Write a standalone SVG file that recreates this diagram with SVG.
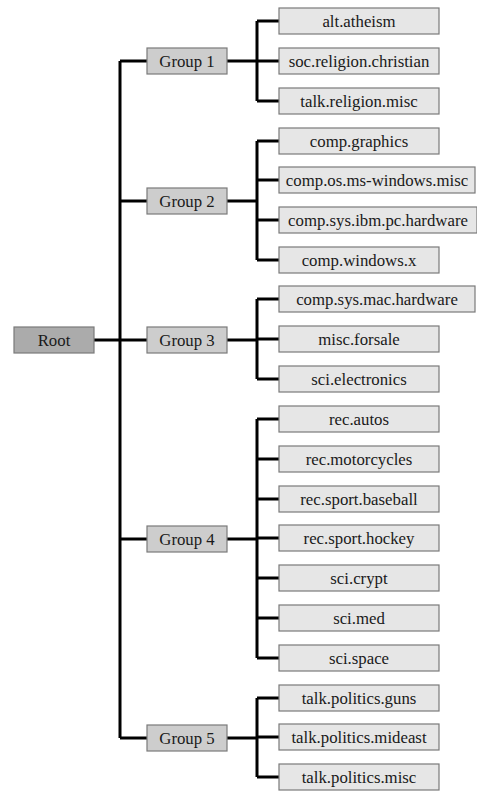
<svg xmlns="http://www.w3.org/2000/svg" width="477" height="792" viewBox="0 0 477 792" font-family="'Liberation Serif', 'DejaVu Serif', serif">
<style>
.box{stroke:#7a7a7a;stroke-width:1.2}
.root{fill:#ababab}
.grp{fill:#cdcdcd}
.leaf{fill:#e6e6e6}
text{font-family:'Liberation Serif','DejaVu Serif',serif;font-size:16.8px;fill:#1a1a1a;text-anchor:middle}
.conn{fill:none;stroke:#000;stroke-width:3;stroke-linecap:butt}
</style>
<rect width="477" height="792" fill="#fff"/>
<g id="connectors" class="conn">
<path d="M94,340H120M120,61V738M120,61H147M120,201H147M120,340H147M120,539H147M120,738H147"/>
<path d="M227,61H257M257,21V101M257,21H279M257,61H279M257,101H279"/>
<path d="M227,201H257M257,141V260M257,141H279M257,180H279M257,220H279M257,260H279"/>
<path d="M227,340H257M257,299V379M257,299H279M257,339H279M257,379H279"/>
<path d="M227,539H257M257,419V658M257,419H279M257,459H279M257,499H279M257,538H279M257,578H279M257,618H279M257,658H279"/>
<path d="M227,738H257M257,698V777M257,698H279M257,737H279M257,777H279"/>
</g>
<g id="root"><rect class="box root" x="14" y="327" width="80" height="26"/><text x="54" y="346">Root</text></g>
<g id="group1"><rect class="box grp" x="147" y="48" width="80" height="26"/><text x="187" y="67">Group 1</text></g>
<g id="group2"><rect class="box grp" x="147" y="188" width="80" height="26"/><text x="187" y="207">Group 2</text></g>
<g id="group3"><rect class="box grp" x="147" y="327" width="80" height="26"/><text x="187" y="346">Group 3</text></g>
<g id="group4"><rect class="box grp" x="147" y="526" width="80" height="26"/><text x="187" y="545">Group 4</text></g>
<g id="group5"><rect class="box grp" x="147" y="725" width="80" height="26"/><text x="187" y="744">Group 5</text></g>
<g id="leaf-alt-atheism"><rect class="box leaf" x="279" y="8" width="160" height="26"/><text x="359" y="27">alt.atheism</text></g>
<g id="leaf-soc-religion-christian"><rect class="box leaf" x="279" y="48" width="160" height="26"/><text x="359" y="67">soc.religion.christian</text></g>
<g id="leaf-talk-religion-misc"><rect class="box leaf" x="279" y="88" width="160" height="26"/><text x="359" y="107">talk.religion.misc</text></g>
<g id="leaf-comp-graphics"><rect class="box leaf" x="279" y="128" width="160" height="26"/><text x="359" y="147">comp.graphics</text></g>
<g id="leaf-comp-os-ms-windows-misc"><rect class="box leaf" x="279" y="167" width="196" height="26"/><text x="377" y="186">comp.os.ms-windows.misc</text></g>
<g id="leaf-comp-sys-ibm-pc-hardware"><rect class="box leaf" x="279" y="207" width="198" height="26"/><text x="378" y="226">comp.sys.ibm.pc.hardware</text></g>
<g id="leaf-comp-windows-x"><rect class="box leaf" x="279" y="247" width="160" height="26"/><text x="359" y="266">comp.windows.x</text></g>
<g id="leaf-comp-sys-mac-hardware"><rect class="box leaf" x="279" y="286" width="196" height="26"/><text x="377" y="305">comp.sys.mac.hardware</text></g>
<g id="leaf-misc-forsale"><rect class="box leaf" x="279" y="326" width="160" height="26"/><text x="359" y="345">misc.forsale</text></g>
<g id="leaf-sci-electronics"><rect class="box leaf" x="279" y="366" width="160" height="26"/><text x="359" y="385">sci.electronics</text></g>
<g id="leaf-rec-autos"><rect class="box leaf" x="279" y="406" width="160" height="26"/><text x="359" y="425">rec.autos</text></g>
<g id="leaf-rec-motorcycles"><rect class="box leaf" x="279" y="446" width="160" height="26"/><text x="359" y="465">rec.motorcycles</text></g>
<g id="leaf-rec-sport-baseball"><rect class="box leaf" x="279" y="486" width="160" height="26"/><text x="359" y="505">rec.sport.baseball</text></g>
<g id="leaf-rec-sport-hockey"><rect class="box leaf" x="279" y="525" width="160" height="26"/><text x="359" y="544">rec.sport.hockey</text></g>
<g id="leaf-sci-crypt"><rect class="box leaf" x="279" y="565" width="160" height="26"/><text x="359" y="584">sci.crypt</text></g>
<g id="leaf-sci-med"><rect class="box leaf" x="279" y="605" width="160" height="26"/><text x="359" y="624">sci.med</text></g>
<g id="leaf-sci-space"><rect class="box leaf" x="279" y="645" width="160" height="26"/><text x="359" y="664">sci.space</text></g>
<g id="leaf-talk-politics-guns"><rect class="box leaf" x="279" y="685" width="160" height="26"/><text x="359" y="704">talk.politics.guns</text></g>
<g id="leaf-talk-politics-mideast"><rect class="box leaf" x="279" y="724" width="160" height="26"/><text x="359" y="743">talk.politics.mideast</text></g>
<g id="leaf-talk-politics-misc"><rect class="box leaf" x="279" y="764" width="160" height="26"/><text x="359" y="783">talk.politics.misc</text></g>
</svg>
